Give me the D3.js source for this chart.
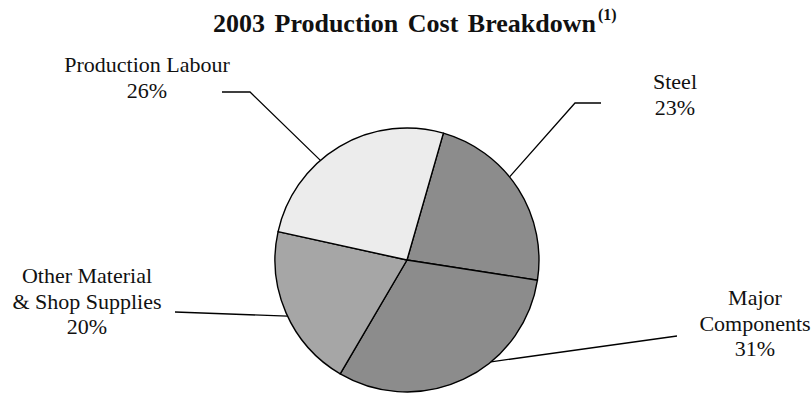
<!DOCTYPE html>
<html>
<head>
<meta charset="utf-8">
<script src="https://cdn.jsdelivr.net/npm/d3@7/dist/d3.min.js"></script>
<style>
  html, body { margin: 0; padding: 0; background: #ffffff; }
  svg { display: block; }
  text { font-family: "Liberation Serif", "Times New Roman", serif; fill: #111; }
</style>
</head>
<body>
<svg id="chart" width="812" height="394"></svg>
<script>
// Cost shares (%), in drawing order clockwise
const categories = ["Steel", "Major Components", "Other Material & Shop Supplies", "Production Labour"];
const shares = [23, 31, 20, 26];
const labelLines = [["Steel", "23%"], ["Major", "Components", "31%"], ["Other Material", "& Shop Supplies", "20%"], ["Production Labour", "26%"]];
const fills = ["#8c8c8c", "#8c8c8c", "#a6a6a6", "#ececec"];

const W = 812, H = 394;
const cx = 407, cy = 260, R = 132;
const deg = Math.PI / 180;
const startAngle = 16 * deg;

// Label placement: leader start angle on the rim, elbow/end points, text anchor and baseline
const labelLayout = [
  { rimAngle: 51,  path: [[575, 103], [601, 103]], tx: 675, ty: 89 },
  { rimAngle: 140.5, path: [[677, 336]], tx: 755, ty: 305 },
  { rimAngle: 244.8, path: [[175, 312]], tx: 87, ty: 283 },
  { rimAngle: 319, path: [[250, 92], [222, 92]], tx: 147, ty: 72 }
];
const lineStep = 25.5;

const svg = d3.select("#chart");

// Title with superscript footnote marker
const title = svg.append("text")
  .attr("x", 213).attr("y", 32)
  .attr("text-anchor", "start")
  .style("font-weight", "bold")
  .style("font-size", "26px")
  .style("word-spacing", "3px");
title.append("tspan").text("2003 Production Cost Breakdown");
title.append("tspan").attr("dx", 2).attr("dy", -12).style("font-size", "16px").text("(1)");

const pie = d3.pie().sort(null).value(d => d)
  .startAngle(startAngle).endAngle(startAngle + 2 * Math.PI);
const arcs = pie(shares);
const arc = d3.arc().innerRadius(0).outerRadius(R);

const g = svg.append("g").attr("transform", `translate(${cx},${cy})`);
g.selectAll("path.slice")
  .data(arcs)
  .join("path")
  .attr("class", "slice")
  .attr("d", arc)
  .attr("fill", (d, i) => fills[i])
  .attr("stroke", "#000")
  .attr("stroke-width", 1.4)
  .attr("stroke-linejoin", "round");

// Leader lines from the rim to the labels
const line = d3.line();
labelLayout.forEach((L, i) => {
  const a = L.rimAngle * deg;
  const start = [cx + R * Math.sin(a), cy - R * Math.cos(a)];
  svg.append("path")
    .attr("d", line([start, ...L.path]))
    .attr("fill", "none")
    .attr("stroke", "#000")
    .attr("stroke-width", 1.3);

  const t = svg.append("text")
    .attr("text-anchor", "middle")
    .style("font-size", "22px");
  labelLines[i].forEach((s, k) => {
    t.append("tspan").attr("x", L.tx).attr("y", L.ty + k * lineStep).text(s);
  });
});
</script>
</body>
</html>
